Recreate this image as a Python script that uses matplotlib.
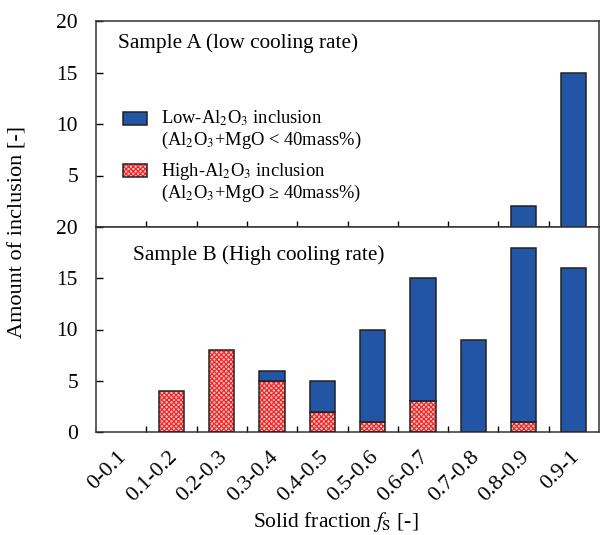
import matplotlib.pyplot as plt
from matplotlib.patches import Rectangle
from matplotlib.transforms import ScaledTranslation
import numpy as np

plt.rcParams['font.family'] = ['Liberation Serif', 'DejaVu Serif']
plt.rcParams['mathtext.fontset'] = 'stix'
plt.rcParams['hatch.linewidth'] = 0.9

categories = ['0-0.1', '0.1-0.2', '0.2-0.3', '0.3-0.4', '0.4-0.5',
              '0.5-0.6', '0.6-0.7', '0.7-0.8', '0.8-0.9', '0.9-1']

# Sample A (low cooling rate)
a_high = [0, 0, 0, 0, 0, 0, 0, 0, 0, 0]
a_low = [0, 0, 0, 0, 0, 0, 0, 0, 2, 15]

# Sample B (high cooling rate)
b_high = [0, 4, 8, 5, 2, 1, 3, 0, 1, 0]
b_low = [0, 0, 0, 1, 3, 9, 12, 9, 17, 16]

blue = '#2255a4'
red = '#ee2a2a'
pink = '#ffc4c4'
edge = '#222222'

W, H = 601, 535
fig = plt.figure(figsize=(W / 100, H / 100), dpi=100)
ax_a = fig.add_axes([96 / W, 1 - 227 / H, 503 / W, 206 / H])
ax_b = fig.add_axes([96 / W, 1 - 432 / H, 503 / W, 205 / H])

x = np.arange(len(categories))


def draw_bars(ax, high, low):
    high = np.array(high)
    low = np.array(low)
    m = high > 0
    ax.bar(x[m], high[m], width=0.5, color=pink, edgecolor=red, lw=0,
           hatch='xxxxxxx', zorder=2)
    ax.bar(x[m], high[m], width=0.5, fill=False, edgecolor=edge, lw=1.1, zorder=3)
    m = low > 0
    ax.bar(x[m], low[m], width=0.5, bottom=high[m], color=blue, edgecolor=edge,
           lw=1.1, zorder=3)
    ax.set_xlim(-0.5, len(categories) - 0.5)
    ax.set_ylim(0, 20)
    ax.set_xticks(x)
    ax.set_xticks(np.arange(0.5, len(categories) - 0.5, 1), minor=True)
    ax.tick_params(axis='x', which='major', length=0)
    ax.tick_params(axis='x', which='minor', direction='in', length=4, width=1)
    ax.tick_params(axis='y', direction='in', length=5, width=1, labelsize=15.5,
                   pad=13)
    for s in ax.spines.values():
        s.set_linewidth(1.1)
        s.set_color('#333333')


draw_bars(ax_a, a_high, a_low)
draw_bars(ax_b, b_high, b_low)

ax_a.set_yticks([5, 10, 15, 20])
ax_a.set_xticklabels([])
ax_b.set_yticks([0, 5, 10, 15, 20])
ax_b.set_xticklabels(categories, rotation=45, ha='right', va='center',
                     rotation_mode='anchor', fontsize=16)
ax_b.tick_params(axis='x', which='major', pad=16)
shift = ScaledTranslation(3 / 100, 0, fig.dpi_scale_trans)
for lbl in ax_b.get_xticklabels():
    lbl.set_transform(lbl.get_transform() + shift)


def ax_frac(px, py, top, height):
    return (px - 96) / 503, (top - py) / height


ax_a.text(*ax_frac(118, 43, 227, 206), 'Sample A (low cooling rate)',
          transform=ax_a.transAxes, fontsize=15.3, va='center')
ax_b.text(*ax_frac(133, 255, 432, 205), 'Sample B (High cooling rate)',
          transform=ax_b.transAxes, fontsize=15.3, va='center')

# legend drawn by hand so the swatch lines up with the first text line
for (y0, fc, ec, hatch) in [(125, blue, edge, None), (177, pink, red, 'xxxxxxx')]:
    fx, fy = ax_frac(123, y0, 227, 206)
    r = Rectangle((fx, fy), 24 / 503, 13 / 206, transform=ax_a.transAxes,
                  facecolor=fc, edgecolor=ec, hatch=hatch, lw=0 if hatch else 1.1,
                  zorder=4)
    ax_a.add_patch(r)
    if hatch:
        ax_a.add_patch(Rectangle((fx, fy), 24 / 503, 13 / 206,
                                 transform=ax_a.transAxes, fill=False,
                                 edgecolor=edge, lw=1.1, zorder=5))

legend_lines = [
    (118, 'Low-Al$_2$O$_3$ inclusion'),
    (140, '(Al$_2$O$_3$+MgO < 40mass%)'),
    (171, 'High-Al$_2$O$_3$ inclusion'),
    (193, '(Al$_2$O$_3$+MgO ≥ 40mass%)'),
]
for py, s in legend_lines:
    ax_a.text(*ax_frac(161, py, 227, 206), s, transform=ax_a.transAxes,
              fontsize=13.3, va='center')

fig.text(18 / W, 1 - 232 / H, 'Amount of inclusion [-]', rotation=90,
         fontsize=16, ha='center', va='center')
fig.text(336 / W, 1 - 522 / H, 'Solid fraction $f_{\\rm S}$ [-]',
         fontsize=15.5, ha='center', va='center')

fig.savefig('out.png', dpi=100)
